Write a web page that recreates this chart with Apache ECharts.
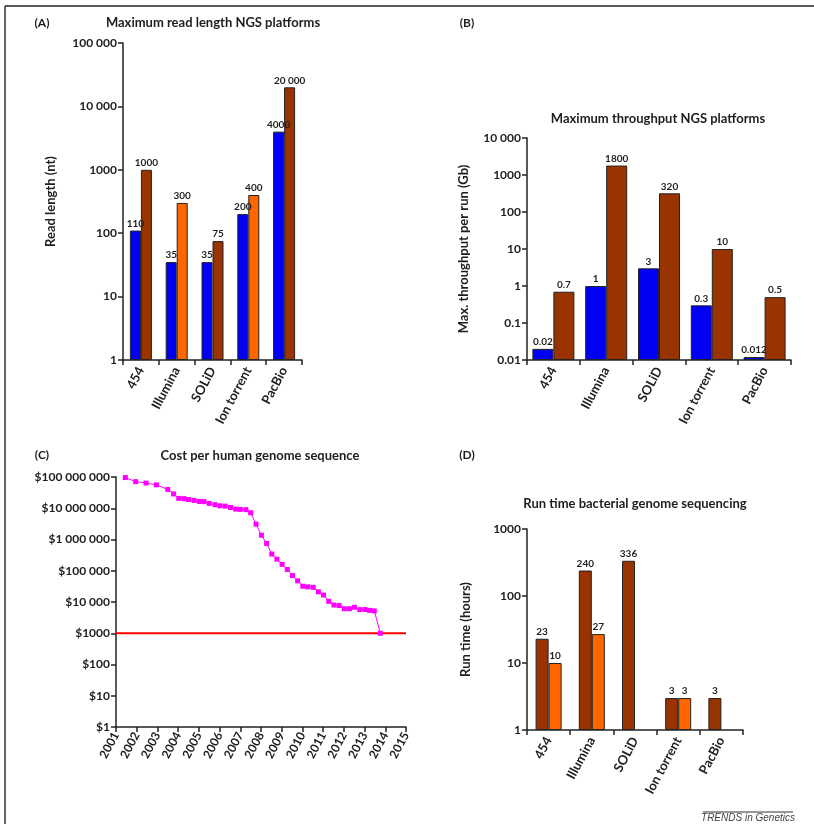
<!DOCTYPE html>
<html>
<head>
<meta charset="utf-8">
<script src="https://cdn.jsdelivr.net/npm/echarts@6/dist/echarts.min.js"></script>
<style>
html,body{margin:0;padding:0;background:#fff;}
#chart{width:814px;height:824px;}
</style>
</head>
<body>
<div id="chart"></div>
<script>
// ---------- DATA ----------
const platforms = ['454', 'Illumina', 'SOLiD', 'Ion torrent', 'PacBio'];

// (A) Maximum read length (nt)
const readLengthShort = [110, 35, 35, 200, 4000];
const readLengthLong = [1000, 300, 75, 400, 20000];

// (B) Maximum throughput per run (Gb)
const throughputLow = [0.02, 1, 3, 0.3, 0.012];
const throughputHigh = [0.7, 1800, 320, 10, 0.5];

// (D) Run time bacterial genome sequencing (hours)
const runTimeMain = [23, 240, 336, 3, 3];
const runTimeAlt = [10, 27, null, 3, null];

// (C) Cost per human genome sequence
const costYears = [2001.45, 2001.95, 2002.45, 2002.95, 2003.5, 2003.78, 2004.03, 2004.28, 2004.5, 2004.77,
  2005.02, 2005.25, 2005.5, 2005.78, 2006.02, 2006.27, 2006.53, 2006.78, 2007.0, 2007.27,
  2007.5, 2007.76, 2008.02, 2008.27, 2008.52, 2008.77, 2009.02, 2009.27, 2009.52, 2009.77,
  2010.02, 2010.26, 2010.52, 2010.77, 2011.02, 2011.27, 2011.52, 2011.77, 2012.02, 2012.27,
  2012.51, 2012.77, 2013.02, 2013.24, 2013.47, 2013.76];
const costValues = [96000000, 71000000, 64000000, 56000000, 40000000, 28700000, 20700000, 20300000, 19000000, 17800000,
  16500000, 16300000, 14300000, 13000000, 12000000, 11700000, 10600000, 9400000, 9200000, 9000000,
  7200000, 3100000, 1370000, 750000, 342000, 234000, 160000, 110000, 70000, 47500,
  32000, 30500, 29500, 21200, 16700, 10500, 8000, 7700, 6100, 6100,
  6800, 5700, 5750, 5400, 5200, 1000];
const targetCostYears = [2001, 2015];
const targetCostValues = [1000, 1000];

// ---------- STYLE ----------
const BLUE = '#0000F5', BROWN = '#993300', ORANGE = '#FF6600';
const readLongColors = [BROWN, ORANGE, BROWN, ORANGE, BROWN];
const FONT = 'Lato';
const TXT = '#1e1e1e';

function fmt(v) {
  if (v >= 10000) return String(v).replace(/\B(?=(\d{3})+(?!\d))/g, ' ');
  return String(v);
}

const catAxis = (gridIndex) => ({
  type: 'category', gridIndex, data: platforms,
  axisLine: {lineStyle: {color: '#222', width: 1.5}},
  axisTick: {show: true, length: 5, lineStyle: {color: '#222', width: 1.5}},
  axisLabel: {rotate: 62, fontFamily: FONT, fontWeight: 'bold', fontSize: 13, color: TXT, margin: 8, interval: 0}
});

const logAxis = (gridIndex, min, max, name, nameGap, prefix) => ({
  type: 'log', logBase: 10, gridIndex, min, max, startValue: min,
  name: name || '', nameLocation: 'middle', nameGap: nameGap || 0, nameRotate: 90,
  nameTextStyle: {fontFamily: FONT, fontWeight: 'bold', fontSize: 13, color: TXT},
  axisLine: {show: true, lineStyle: {color: '#222', width: 1.5}},
  axisTick: {show: true, length: 5, lineStyle: {color: '#222', width: 1.5}},
  minorTick: {show: false},
  splitLine: {show: false},
  axisLabel: {fontFamily: FONT, fontWeight: 'bold', fontSize: 12, color: TXT, margin: 6,
    formatter: (v) => (prefix || '') + fmt(Math.round(v * 1000) / 1000)}
});

const barLabel = {show: true, position: 'top', distance: 2, fontFamily: FONT, fontWeight: 'bold',
  fontSize: 10, color: TXT, formatter: (p) => fmt(p.value)};

const barStyle = (color) => ({color, borderColor: '#222', borderWidth: 1});

const textG = (text, x, y, size, align) => ({
  type: 'text', x, y,
  style: {text, fontFamily: FONT, fontWeight: 'bold', fontSize: size, fill: TXT,
    textAlign: align || 'center', textVerticalAlign: 'middle'}
});

const option = {
  animation: false,
  backgroundColor: '#fff',
  grid: [
    {left: 123, top: 43, width: 179, height: 317},
    {left: 527, top: 138, width: 264, height: 222},
    {left: 116, top: 477, width: 290, height: 250},
    {left: 527, top: 529, width: 216, height: 201}
  ],
  xAxis: [
    catAxis(0),
    catAxis(1),
    {type: 'value', gridIndex: 2, min: 2001, max: 2015, interval: 1,
      axisLine: {lineStyle: {color: '#222', width: 1.5}},
      axisTick: {show: true, length: 5, lineStyle: {color: '#222', width: 1.5}},
      splitLine: {show: false},
      axisLabel: {rotate: 62, fontFamily: FONT, fontWeight: 'bold', fontSize: 12, color: TXT, margin: 6,
        formatter: (v) => String(v)}},
    catAxis(3)
  ],
  yAxis: [
    logAxis(0, 1, 100000, 'Read length (nt)', 66),
    logAxis(1, 0.01, 10000, 'Max. throughput per run (Gb)', 57),
    logAxis(2, 1, 100000000, '', 0, '$'),
    logAxis(3, 1, 1000, 'Run time (hours)', 55)
  ],
  series: [
    {type: 'bar', xAxisIndex: 0, yAxisIndex: 0, data: readLengthShort, barWidth: 11, barGap: '0%',
      itemStyle: barStyle(BLUE), label: barLabel},
    {type: 'bar', xAxisIndex: 0, yAxisIndex: 0, barWidth: 11, barGap: '0%',
      data: readLengthLong.map((v, i) => ({value: v, itemStyle: barStyle(readLongColors[i])})),
      itemStyle: barStyle(BROWN), label: barLabel},
    {type: 'bar', xAxisIndex: 1, yAxisIndex: 1, data: throughputLow, barWidth: 21, barGap: '0%',
      itemStyle: barStyle(BLUE), label: barLabel},
    {type: 'bar', xAxisIndex: 1, yAxisIndex: 1, data: throughputHigh, barWidth: 21, barGap: '0%',
      itemStyle: barStyle(BROWN), label: barLabel},
    {type: 'line', xAxisIndex: 2, yAxisIndex: 2, data: targetCostYears.map((y, i) => [y, targetCostValues[i]]),
      showSymbol: false, symbol: 'none', lineStyle: {color: '#FF0000', width: 2}, z: 2},
    {type: 'line', xAxisIndex: 2, yAxisIndex: 2, data: costYears.map((y, i) => [y, costValues[i]]),
      symbol: 'rect', symbolSize: 5, itemStyle: {color: '#FF00FF'}, lineStyle: {color: '#FF00FF', width: 1}, z: 3},
    {type: 'bar', xAxisIndex: 3, yAxisIndex: 3, data: runTimeMain, barWidth: 13, barGap: '0%',
      itemStyle: barStyle(BROWN), label: barLabel},
    {type: 'bar', xAxisIndex: 3, yAxisIndex: 3, data: runTimeAlt.map(v => v === null ? '-' : v), barWidth: 13, barGap: '0%',
      itemStyle: barStyle(ORANGE), label: barLabel}
  ],
  graphic: [
    {type: 'line', shape: {x1: 5, y1: 6, x2: 814, y2: 6}, style: {stroke: '#222', lineWidth: 1.5}},
    {type: 'line', shape: {x1: 5, y1: 6, x2: 5, y2: 824}, style: {stroke: '#333', lineWidth: 1.5}},
    textG('(A)', 42, 23, 12),
    textG('Maximum read length NGS platforms', 213, 23, 13),
    textG('(B)', 467, 23, 12),
    textG('Maximum throughput NGS platforms', 658, 119, 13),
    textG('(C)', 42, 455, 12),
    textG('Cost per human genome sequence', 260, 456, 13),
    textG('(D)', 467, 455, 12),
    textG('Run time bacterial genome sequencing', 635, 504, 13),
    {type: 'line', shape: {x1: 703, y1: 812, x2: 793, y2: 812}, style: {stroke: '#333', lineWidth: 1}},
    {type: 'text', x: 748, y: 818, style: {text: 'TRENDS in Genetics', fontFamily: 'Liberation Sans',
      fontStyle: 'italic', fontSize: 10, fill: '#444', textAlign: 'center', textVerticalAlign: 'middle'}}
  ]
};

const chart = echarts.init(document.getElementById('chart'), null, {renderer: 'canvas'});
chart.setOption(option);
</script>
</body>
</html>
